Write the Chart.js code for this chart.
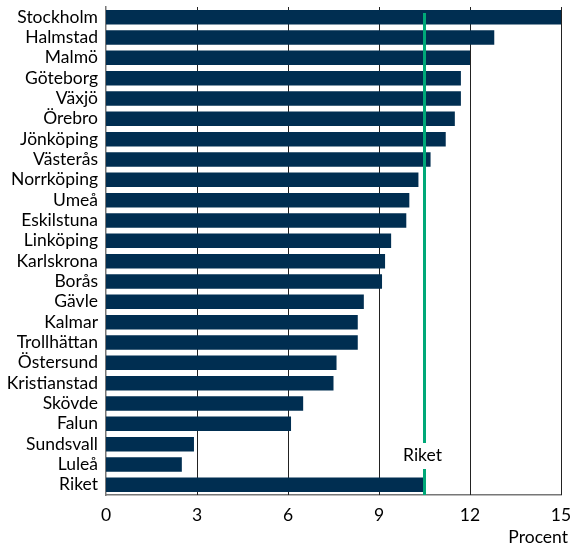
<!DOCTYPE html>
<html>
<head>
<meta charset="utf-8">
<script src="https://cdn.jsdelivr.net/npm/chart.js@4"></script>
<style>
html,body{margin:0;padding:0;background:#fff;}
#wrap{width:571px;height:546px;position:relative;}
</style>
</head>
<body>
<div id="wrap"><canvas id="c" width="571" height="546"></canvas></div>
<script>
const categories = ["Stockholm","Halmstad","Malmö","Göteborg","Växjö","Örebro","Jönköping","Västerås","Norrköping","Umeå","Eskilstuna","Linköping","Karlskrona","Borås","Gävle","Kalmar","Trollhättan","Östersund","Kristianstad","Skövde","Falun","Sundsvall","Luleå","Riket"];
const values = [15.0,12.8,12.0,11.7,11.7,11.5,11.2,10.7,10.3,10.0,9.9,9.4,9.2,9.1,8.5,8.3,8.3,7.6,7.5,6.5,6.1,2.9,2.5,10.5];
const riketValue = 10.5;
const riketLabel = "Riket";
const xTicks = [0,3,6,9,12,15];
const axisTitle = "Procent";

const FONT = "Lato, 'Open Sans', sans-serif";
const FSIZE = 17.5;

const overlay = {
  id: 'overlay',
  beforeDatasetsDraw(chart) {
    const ctx = chart.ctx, x = chart.scales.x, a = chart.chartArea;
    ctx.save();
    ctx.strokeStyle = '#222';
    ctx.lineWidth = 1;
    xTicks.forEach(v => {
      if (v === 0) return;
      const px = Math.round(x.getPixelForValue(v)) + 0.5;
      ctx.beginPath(); ctx.moveTo(px, a.top); ctx.lineTo(px, a.bottom); ctx.stroke();
    });
    ctx.restore();
  },
  afterDatasetsDraw(chart) {
    const ctx = chart.ctx, x = chart.scales.x, a = chart.chartArea;
    const px = x.getPixelForValue(riketValue);
    ctx.save();
    ctx.strokeStyle = '#00a878';
    ctx.lineWidth = 3;
    ctx.beginPath(); ctx.moveTo(px, a.top + 6); ctx.lineTo(px, a.bottom); ctx.stroke();
    ctx.font = FSIZE + "px " + FONT;
    const tw = ctx.measureText(riketLabel).width;
    const cy = 455;
    ctx.fillStyle = '#fff';
    ctx.fillRect(px - tw/2 - 6, cy - 12, tw + 10, 26);
    ctx.fillStyle = '#000';
    ctx.textAlign = 'center';
    ctx.textBaseline = 'middle';
    ctx.fillText(riketLabel, px - 2, cy);
    ctx.textAlign = 'right';
    ctx.fillText(axisTitle, a.right + 7, 537);
    ctx.restore();
  }
};

new Chart(document.getElementById('c'), {
  type: 'bar',
  data: {
    labels: categories,
    datasets: [{
      data: values,
      backgroundColor: '#002e51',
      borderWidth: 0,
      barPercentage: 0.71,
      categoryPercentage: 1.0
    }]
  },
  options: {
    indexAxis: 'y',
    responsive: false,
    animation: false,
    layout: { padding: { top: 7, right: 10, bottom: 10, left: 0 } },
    plugins: { legend: { display: false }, tooltip: { enabled: false } },
    scales: {
      x: {
        min: 0, max: 15,
        afterBuildTicks(s) { s.ticks = xTicks.map(v => ({ value: v })); },
        afterFit(s) { s.paddingLeft = 0; s.paddingRight = 0; },
        grid: { display: false, drawTicks: false },
        border: { display: true, color: '#777', width: 1.5 },
        ticks: { color: '#000', font: { family: FONT, size: FSIZE }, padding: 10, maxRotation: 0 }
      },
      y: {
        afterFit(s) { s.width = 106; s.paddingTop = 0; s.paddingBottom = 0; },
        grid: { display: false, drawTicks: false },
        border: { display: true, color: '#777', width: 1.5 },
        ticks: { color: '#000', font: { family: FONT, size: FSIZE }, padding: 8, autoSkip: false }
      }
    }
  },
  plugins: [overlay]
});
</script>
</body>
</html>
